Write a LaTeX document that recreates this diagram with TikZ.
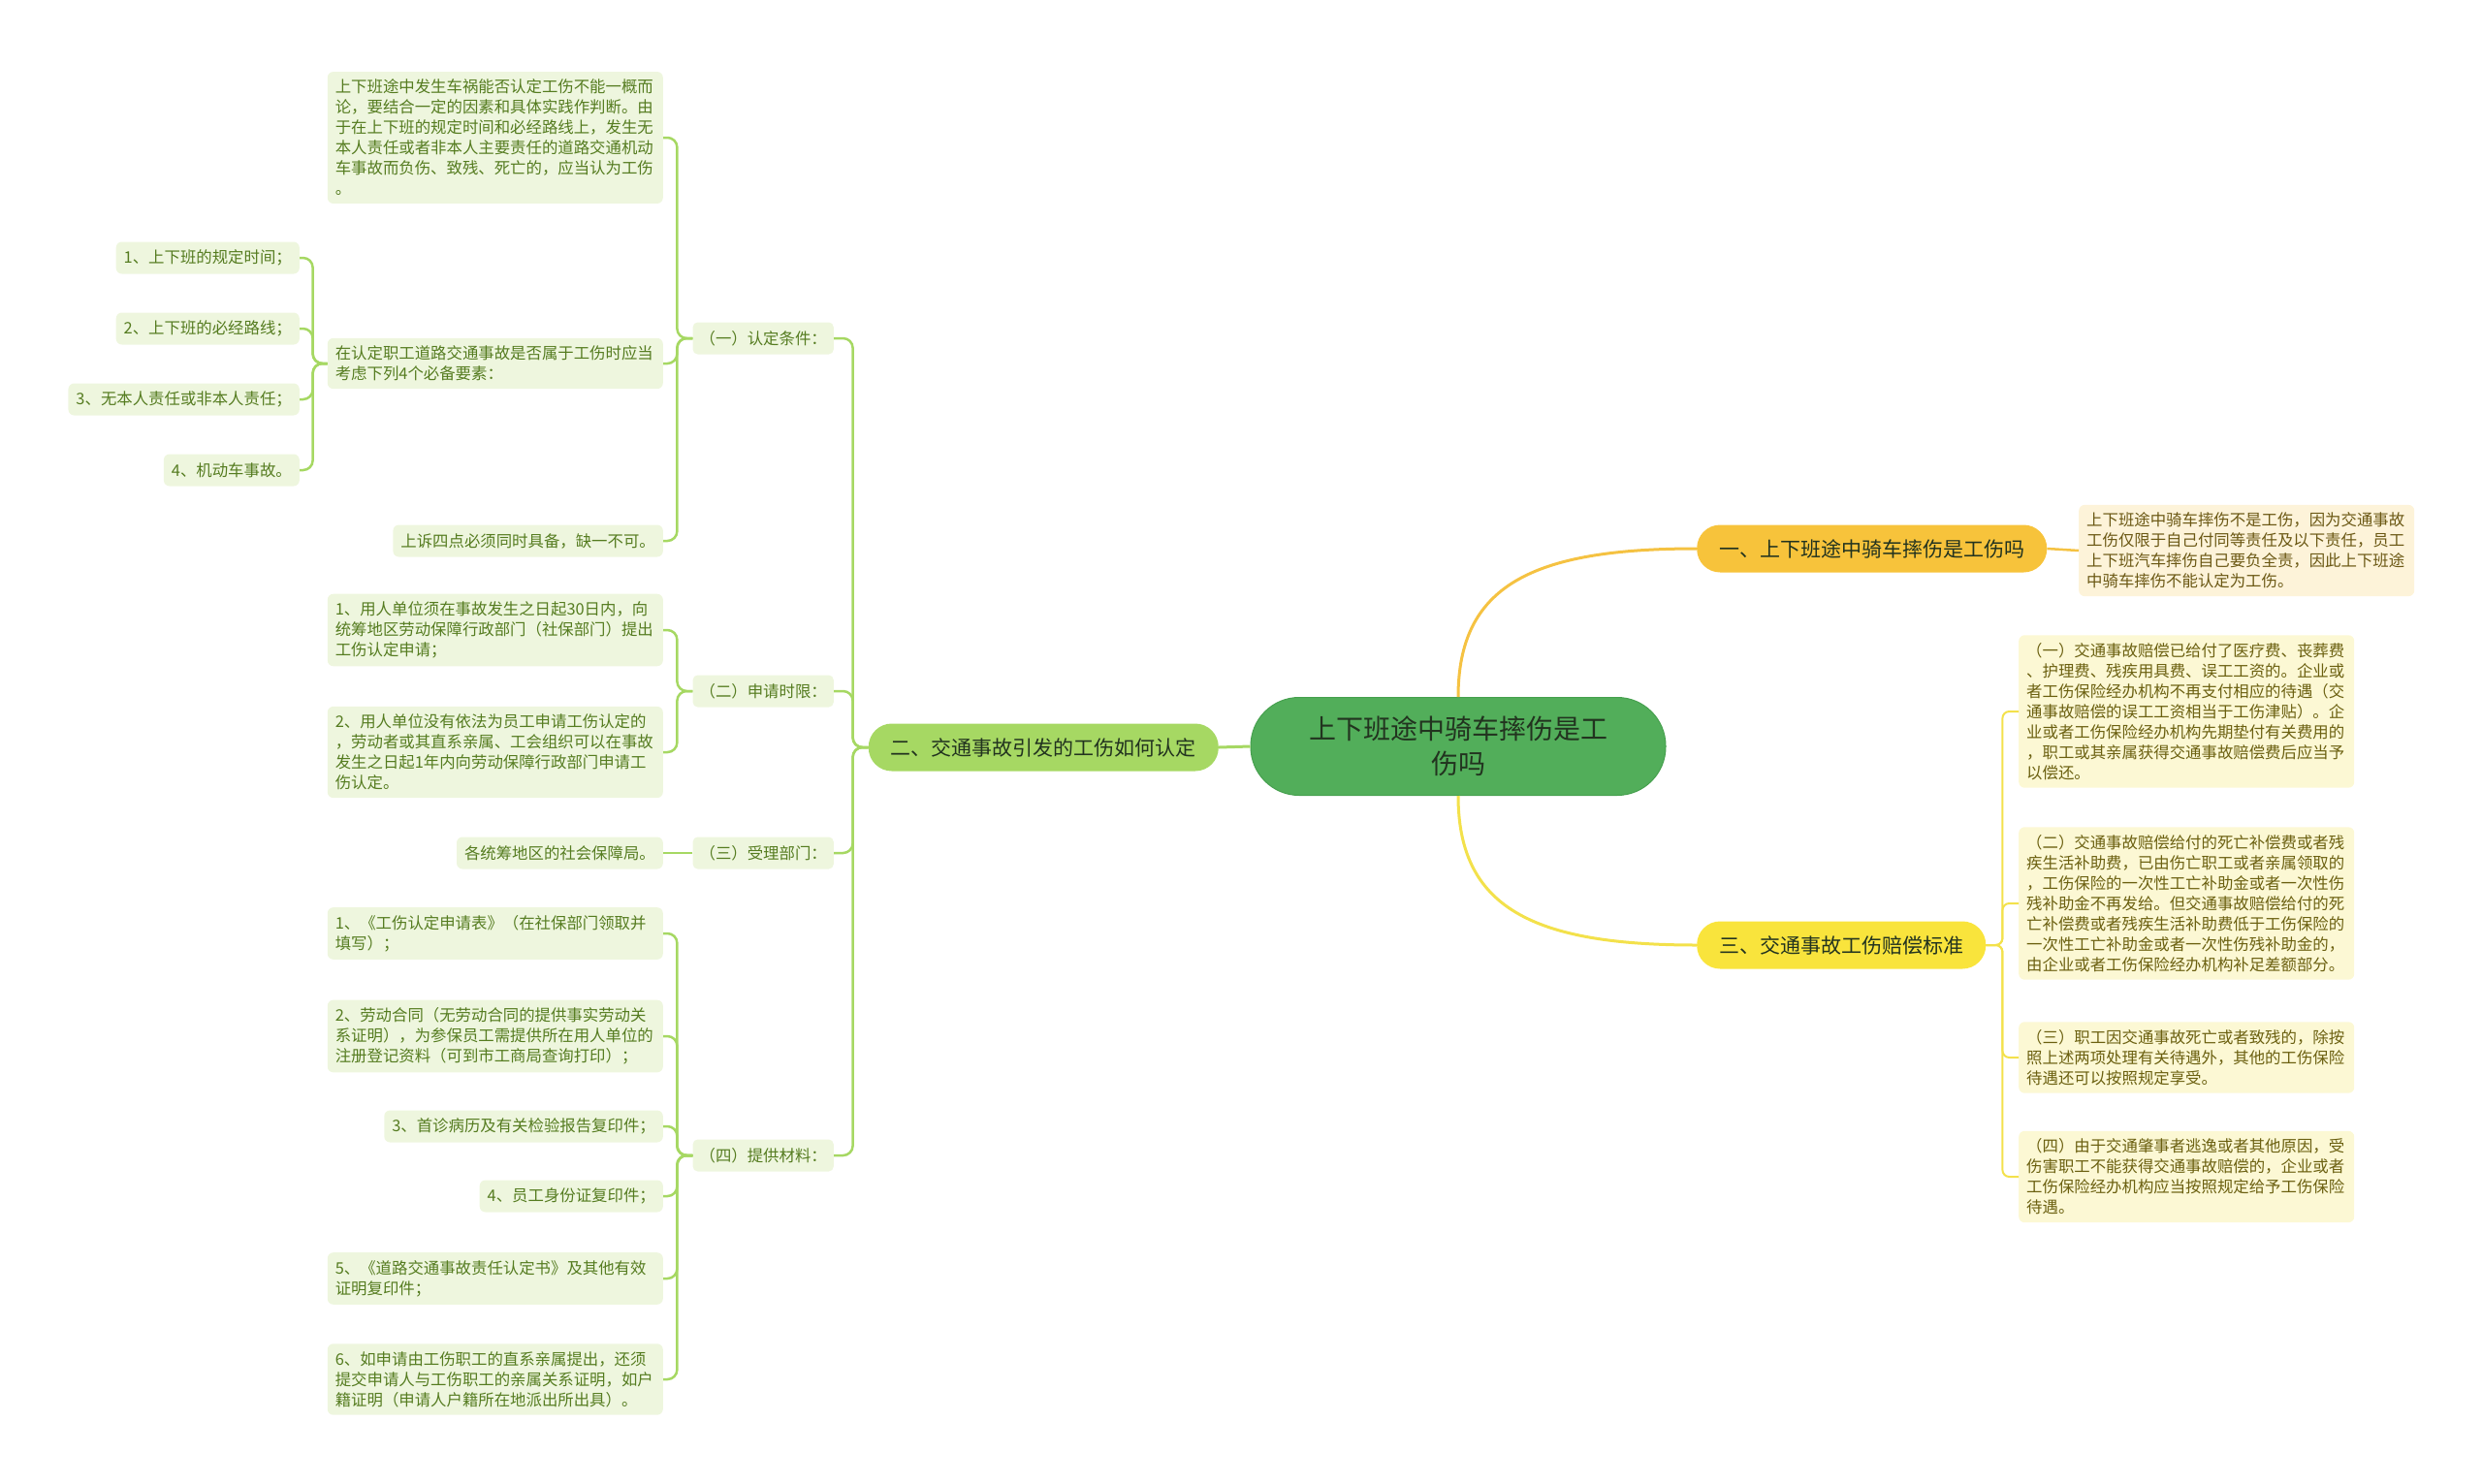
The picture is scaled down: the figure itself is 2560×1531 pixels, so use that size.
\documentclass[tikz,border=0pt]{standalone}
\usepackage{fontspec}
\setmainfont{Noto Sans CJK SC}
\definecolor{rootgreen}{HTML}{52AE5A}
\definecolor{rootedge}{HTML}{46A04E}
\definecolor{roottext}{HTML}{22331F}
\definecolor{bgreen}{HTML}{A6D863}
\definecolor{borange}{HTML}{F7C33B}
\definecolor{byellow}{HTML}{F9E43C}
\definecolor{leafgreen}{HTML}{EEF6DE}
\definecolor{leaftext}{HTML}{557C20}
\definecolor{leafyellow}{HTML}{FCF8D4}
\definecolor{yeltext}{HTML}{6B6010}
\definecolor{leafcream}{HTML}{FDF3D9}
\definecolor{creamtext}{HTML}{6B5814}
\definecolor{lineyellow}{HTML}{F3E14B}
\definecolor{lineorange}{HTML}{F5C242}
\begin{document}
\begin{tikzpicture}[x=1pt,y=-1pt,
  root/.style={fill=rootgreen,draw=rootedge,line width=1pt,rounded corners=50pt,minimum width=428pt,minimum height=101pt,
    align=center,text=roottext,font=\fontsize{28}{36}\selectfont},
  branch/.style={rounded corners=24pt,minimum height=49pt,inner xsep=23pt,text=roottext,font=\fontsize{21}{26}\selectfont},
  cat/.style={fill=leafgreen,rounded corners=5pt,minimum height=33pt,inner xsep=7pt,text=leaftext,font=\fontsize{16.4}{21}\selectfont},
  gleaf/.style={fill=leafgreen,rounded corners=6pt,minimum height=33pt,inner sep=8pt,align=left,text=leaftext,font=\fontsize{16.4}{21}\selectfont},
  gpara/.style={gleaf,text width=330pt},
  ypara/.style={gpara,fill=leafyellow,text=yeltext},
  gline/.style={draw=bgreen,line width=2.5pt,rounded corners=10pt},
  yline/.style={draw=lineyellow,line width=2pt,rounded corners=7pt}]
\useasboundingbox (0,0) rectangle (2560,1531);

\node[root] (root) at (1504,770) {上下班途中骑车摔伤是工\\伤吗};
\node[branch,fill=borange,anchor=west] (b1) at (1750,566) {一、上下班途中骑车摔伤是工伤吗};
\node[branch,fill=bgreen,anchor=east] (b2) at (1257,771) {二、交通事故引发的工伤如何认定};
\node[branch,fill=byellow,anchor=west] (b3) at (1750,975) {三、交通事故工伤赔偿标准};

% right side
\node[gpara,fill=leafcream,text=creamtext,anchor=west] (l1) at (2144,568) {上下班途中骑车摔伤不是工伤，因为交通事故\\工伤仅限于自己付同等责任及以下责任，员工\\上下班汽车摔伤自己要负全责，因此上下班途\\中骑车摔伤不能认定为工伤。};
\node[ypara,anchor=west] (t1) at (2082,734) {（一）交通事故赔偿已给付了医疗费、丧葬费\\、护理费、残疾用具费、误工工资的。企业或\\者工伤保险经办机构不再支付相应的待遇（交\\通事故赔偿的误工工资相当于工伤津贴）。企\\业或者工伤保险经办机构先期垫付有关费用的\\，职工或其亲属获得交通事故赔偿费后应当予\\以偿还。};
\node[ypara,anchor=west] (t2) at (2082,932) {（二）交通事故赔偿给付的死亡补偿费或者残\\疾生活补助费，已由伤亡职工或者亲属领取的\\，工伤保险的一次性工亡补助金或者一次性伤\\残补助金不再发给。但交通事故赔偿给付的死\\亡补偿费或者残疾生活补助费低于工伤保险的\\一次性工亡补助金或者一次性伤残补助金的，\\由企业或者工伤保险经办机构补足差额部分。};
\node[ypara,anchor=west] (t3) at (2082,1091) {（三）职工因交通事故死亡或者致残的，除按\\照上述两项处理有关待遇外，其他的工伤保险\\待遇还可以按照规定享受。};
\node[ypara,anchor=west] (t4) at (2082,1214) {（四）由于交通肇事者逃逸或者其他原因，受\\伤害职工不能获得交通事故赔偿的，企业或者\\工伤保险经办机构应当按照规定给予工伤保险\\待遇。};

% left side
\node[cat,anchor=east] (c1) at (860,349) {（一）认定条件：};
\node[cat,anchor=east] (c2) at (860,713) {（二）申请时限：};
\node[cat,anchor=east] (c3) at (860,880) {（三）受理部门：};
\node[cat,anchor=east] (c4) at (860,1192) {（四）提供材料：};

\node[gpara,anchor=east] (p1) at (684,142) {上下班途中发生车祸能否认定工伤不能一概而\\论，要结合一定的因素和具体实践作判断。由\\于在上下班的规定时间和必经路线上，发生无\\本人责任或者非本人主要责任的道路交通机动\\车事故而负伤、致残、死亡的，应当认为工伤\\。};
\node[gpara,anchor=east] (p2) at (684,375) {在认定职工道路交通事故是否属于工伤时应当\\考虑下列4个必备要素：};
\node[gleaf,anchor=east] (p3) at (684,558) {上诉四点必须同时具备，缺一不可。};
\node[gleaf,anchor=east] (q1) at (309,266) {1、上下班的规定时间；};
\node[gleaf,anchor=east] (q2) at (309,339) {2、上下班的必经路线；};
\node[gleaf,anchor=east] (q3) at (309,412) {3、无本人责任或非本人责任；};
\node[gleaf,anchor=east] (q4) at (309,485) {4、机动车事故。};

\node[gpara,anchor=east] (r1) at (684,650) {1、用人单位须在事故发生之日起30日内，向\\统筹地区劳动保障行政部门（社保部门）提出\\工伤认定申请；};
\node[gpara,anchor=east] (r2) at (684,776) {2、用人单位没有依法为员工申请工伤认定的\\，劳动者或其直系亲属、工会组织可以在事故\\发生之日起1年内向劳动保障行政部门申请工\\伤认定。};
\node[gleaf,anchor=east] (d1) at (684,880) {各统筹地区的社会保障局。};

\node[gpara,anchor=east] (s1) at (684,963) {1、《工伤认定申请表》（在社保部门领取并\\填写）；};
\node[gpara,anchor=east] (s2) at (684,1069) {2、劳动合同（无劳动合同的提供事实劳动关\\系证明），为参保员工需提供所在用人单位的\\注册登记资料（可到市工商局查询打印）；};
\node[gleaf,anchor=east] (s3) at (684,1162) {3、首诊病历及有关检验报告复印件；};
\node[gleaf,anchor=east] (s4) at (684,1234) {4、员工身份证复印件；};
\node[gpara,anchor=east] (s5) at (684,1319) {5、《道路交通事故责任认定书》及其他有效\\证明复印件；};
\node[gpara,anchor=east] (s6) at (684,1423) {6、如申请由工伤职工的直系亲属提出，还须\\提交申请人与工伤职工的亲属关系证明，如户\\籍证明（申请人户籍所在地派出所出具）。};

% connectors
\draw[draw=lineorange,line width=3pt] (root.north) .. controls +(0,-115) and +(-170,0) .. (b1.west);
\draw[draw=lineyellow,line width=3pt] (root.south) .. controls +(0,115) and +(-170,0) .. (b3.west);
\draw[draw=bgreen,line width=3pt] (root.west) -- (b2.east);
\draw[draw=lineorange,line width=2.5pt] (b1.east) -- (l1.west);
\foreach \n in {t1,t2,t3,t4}
  \draw[yline] (b3.east) -- ++(17,0) |- (\n.west);
\foreach \n in {c1,c2,c3,c4}
  \draw[gline] (b2.west) -- ++(-16,0) |- (\n.east);
\foreach \n in {p1,p2,p3}
  \draw[gline] (c1.west) -- ++(-16,0) |- (\n.east);
\foreach \n in {q1,q2,q3,q4}
  \draw[gline] (p2.west) -- ++(-15,0) |- (\n.east);
\foreach \n in {r1,r2}
  \draw[gline] (c2.west) -- ++(-16,0) |- (\n.east);
\draw[gline] (c3.west) -- (d1.east);
\foreach \n in {s1,s2,s3,s4,s5,s6}
  \draw[gline] (c4.west) -- ++(-16,0) |- (\n.east);
\end{tikzpicture}
\end{document}
